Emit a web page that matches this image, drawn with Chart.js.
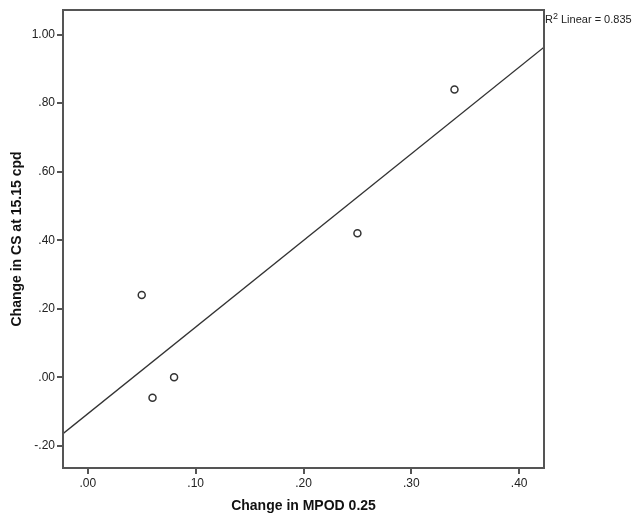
<!DOCTYPE html>
<html>
<head>
<meta charset="utf-8">
<script src="https://cdn.jsdelivr.net/npm/chart.js@4/dist/chart.umd.min.js"></script>
<style>
  body { margin: 0; background: #fff; }
  #wrap { width: 633px; height: 520px; }
</style>
</head>
<body>
<div id="wrap"><canvas id="scatter" width="633" height="520"></canvas></div>
<script>
// change in MPOD vs change in contrast sensitivity
var mpodChange = [0.05, 0.06, 0.08, 0.25, 0.34];
var csChange = [0.24, -0.06, 0.00, 0.42, 0.84];

var xTicks = [0, 0.1, 0.2, 0.3, 0.4];
var yTicks = [-0.2, 0, 0.2, 0.4, 0.6, 0.8, 1.0];
var xRange = [-0.023, 0.423];
var yRange = [-0.265, 1.072];
var r2Label = 'Linear = 0.835';

var FONT = "'Liberation Sans', Arial, sans-serif";
var FRAME = '#555';

// least squares fit line across the whole x range
function fitLine(xs, ys){
    var n = xs.length, mx = 0, my = 0;
    for(var i = 0; i < n; ++i){ mx += xs[i]; my += ys[i]; }
    mx /= n; my /= n;
    var sxy = 0, sxx = 0;
    for(i = 0; i < n; ++i){
        sxy += (xs[i]-mx)*(ys[i]-my);
        sxx += (xs[i]-mx)*(xs[i]-mx);
    }
    var b = sxy/sxx, a = my - b*mx;
    return xRange.map(function(x){ return {x: x, y: a + b*x}; });
}

function spssNum(v){
    var s = v.toFixed(2);
    return s.replace(/^(-?)0\./, '$1.');
}

var points = mpodChange.map(function(x, i){ return {x: x, y: csChange[i]}; });

// frame round the plot + the R2 note at top right
var framePlugin = {
    id: 'frame',
    afterDraw: function(c){
        var a = c.chartArea, ctx = c.ctx;
        ctx.save();
        ctx.strokeStyle = FRAME;
        ctx.lineWidth = 2;
        ctx.strokeRect(a.left, a.top, a.right - a.left, a.bottom - a.top);
        ctx.fillStyle = '#222';
        ctx.textBaseline = 'middle';
        ctx.font = '11px ' + FONT;
        var x = a.right + 1, y = a.top + 10;
        ctx.fillText('R', x, y);
        x += ctx.measureText('R').width;
        ctx.font = '9px ' + FONT;
        ctx.fillText('2', x, y - 3);
        x += ctx.measureText('2').width;
        ctx.font = '11px ' + FONT;
        ctx.fillText(' ' + r2Label, x, y);
        ctx.restore();
    }
};

new Chart(document.getElementById('scatter').getContext('2d'), {
    type: 'scatter',
    data: {
        datasets: [
            {
                data: points,
                pointRadius: 3.5,
                pointHoverRadius: 3.5,
                pointBorderWidth: 1.5,
                borderColor: '#333',
                backgroundColor: '#fff'
            },
            {
                type: 'line',
                data: fitLine(mpodChange, csChange),
                borderColor: '#333',
                borderWidth: 1.3,
                pointRadius: 0,
                fill: false
            }
        ]
    },
    options: {
        responsive: false,
        devicePixelRatio: 1,
        animation: false,
        layout: { padding: { top: 10, right: 89, bottom: 0, left: 0 } },
        plugins: { legend: { display: false }, tooltip: { enabled: false } },
        scales: {
            x: {
                type: 'linear',
                min: xRange[0],
                max: xRange[1],
                afterBuildTicks: function(s){ s.ticks = xTicks.map(function(v){ return {value: v}; }); },
                afterFit: function(s){ s.height = 52; },
                border: { display: false },
                grid: { drawOnChartArea: false, drawTicks: true, tickLength: 6, color: FRAME, lineWidth: 2 },
                ticks: {
                    autoSkip: false, maxRotation: 0, padding: 2, color: '#222',
                    font: { family: FONT, size: 12 },
                    callback: function(v){ return spssNum(v); }
                },
                title: {
                    display: true, text: 'Change in MPOD 0.25', color: '#111',
                    font: { family: FONT, size: 14, weight: 'bold' },
                    padding: { top: 0, bottom: 5 }
                }
            },
            y: {
                type: 'linear',
                min: yRange[0],
                max: yRange[1],
                afterBuildTicks: function(s){ s.ticks = yTicks.map(function(v){ return {value: v}; }); },
                afterFit: function(s){ s.width = 63; },
                border: { display: false },
                grid: { drawOnChartArea: false, drawTicks: true, tickLength: 6, color: FRAME, lineWidth: 2 },
                ticks: {
                    autoSkip: false, padding: 2, color: '#222',
                    font: { family: FONT, size: 12 },
                    callback: function(v){ return spssNum(v); }
                },
                title: {
                    display: true, text: 'Change in CS at 15.15 cpd', color: '#111',
                    font: { family: FONT, size: 14, weight: 'bold' },
                    padding: { top: 9, bottom: 0 }
                }
            }
        }
    },
    plugins: [framePlugin]
});
</script>
</body>
</html>
